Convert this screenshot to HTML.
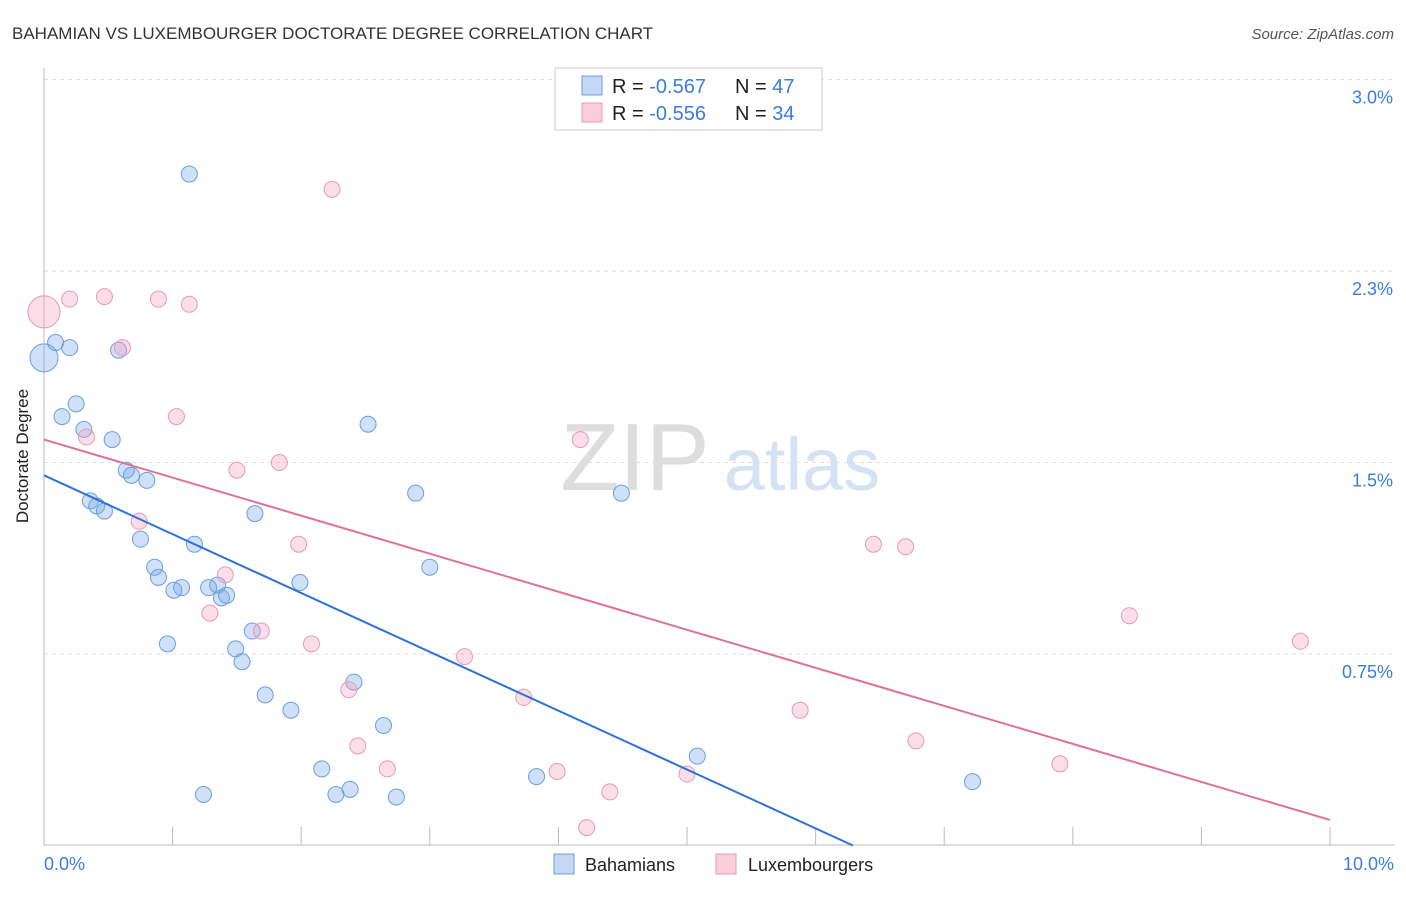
<!DOCTYPE html>
<html><head><meta charset="utf-8"><style>
body{margin:0;background:#fff;font-family:"Liberation Sans",sans-serif;}
svg text{font-family:"Liberation Sans",sans-serif;}
</style></head><body>
<svg id="chart" width="1406" height="892" xmlns="http://www.w3.org/2000/svg">
<text x="12" y="39" font-size="17" fill="#333">BAHAMIAN VS LUXEMBOURGER DOCTORATE DEGREE CORRELATION CHART</text>
<text x="1394" y="39" font-size="15" fill="#555" text-anchor="end" font-style="italic">Source: ZipAtlas.com</text>
<g id="grid"></g>
<g>
<text x="635" y="490" font-size="96" fill="#ddd" text-anchor="middle" font-family="Liberation Serif">ZIP</text>
<text x="802" y="490" font-size="74" fill="#d4e2f4" text-anchor="middle">atlas</text>
</g>
<g id="axes"></g>
<g id="pts"></g>
<g id="lines"></g>
<text x="28" y="456" font-size="17" fill="#222" text-anchor="middle" transform="rotate(-90 28 456)">Doctorate Degree</text>
<text x="44" y="870" font-size="18" fill="#3b7ddd">0.0%</text>
<text x="1394" y="870" font-size="18" fill="#3b7ddd" text-anchor="end">10.0%</text>
<g>
<rect x="555" y="68" width="267" height="62" fill="#fff" stroke="#ccc"/>
<rect x="582" y="76" width="20" height="19" fill="#c4d8f6" stroke="#6a9fe0"/>
<text x="612" y="93" font-size="20" fill="#222">R = <tspan fill="#3b7ddd">-0.567</tspan><tspan x="735">N = </tspan><tspan fill="#3b7ddd">47</tspan></text>
<rect x="582" y="103" width="20" height="19" fill="#f9cdd9" stroke="#e89ab4"/>
<text x="612" y="120" font-size="20" fill="#222">R = <tspan fill="#3b7ddd">-0.556</tspan><tspan x="735">N = </tspan><tspan fill="#3b7ddd">34</tspan></text>
</g>
<g>
<rect x="554" y="854" width="20" height="20" fill="#c4d8f6" stroke="#6a9fe0"/>
<text x="585" y="871" font-size="18" fill="#222">Bahamians</text>
<rect x="716" y="854" width="20" height="20" fill="#f9cdd9" stroke="#e89ab4"/>
<text x="748" y="871" font-size="18" fill="#222">Luxembourgers</text>
</g>
</svg>
<script>
const yTicks=[0.75,1.5,2.25,3.0];
const yTickLabels=["0.75%","1.5%","2.3%","3.0%"];
const xTicks=[0,1,2,3,4,5,6,7,8,9,10];
const blueX=[1.13,0.09,0.20,0.58,0.00,0.25,0.14,2.52,0.31,0.53,0.64,0.68,0.80,2.89,0.36,0.41,0.47,4.49,1.64,0.75,1.17,3.00,0.86,0.89,1.99,1.07,1.01,1.28,1.35,1.38,1.42,0.96,1.62,1.49,1.54,2.41,1.72,1.92,2.64,5.08,2.16,3.83,2.38,2.27,1.24,2.74,7.22];
const blueY=[2.63,1.97,1.95,1.94,1.91,1.73,1.68,1.65,1.63,1.59,1.47,1.45,1.43,1.38,1.35,1.33,1.31,1.38,1.30,1.20,1.18,1.09,1.09,1.05,1.03,1.01,1.00,1.01,1.02,0.97,0.98,0.79,0.84,0.77,0.72,0.64,0.59,0.53,0.47,0.35,0.30,0.27,0.22,0.20,0.20,0.19,0.25];
const blueSize=[8,8,8,8,14,8,8,8,8,8,8,8,8,8,8,8,8,8,8,8,8,8,8,8,8,8,8,8,8,8,8,8,8,8,8,8,8,8,8,8,8,8,8,8,8,8,8];
const pinkX=[2.24,0,0.20,0.47,0.89,1.13,0.61,1.03,0.33,4.17,1.50,1.83,0.74,1.98,6.45,6.70,1.41,1.29,1.69,2.08,8.44,9.77,3.27,2.37,3.73,5.88,2.44,6.78,2.67,3.99,5.00,7.90,4.40,4.22];
const pinkY=[2.57,2.09,2.14,2.15,2.14,2.12,1.95,1.68,1.60,1.59,1.47,1.50,1.27,1.18,1.18,1.17,1.06,0.91,0.84,0.79,0.90,0.80,0.74,0.61,0.58,0.53,0.39,0.41,0.30,0.29,0.28,0.32,0.21,0.07];
const pinkSize=[8,16,8,8,8,8,8,8,8,8,8,8,8,8,8,8,8,8,8,8,8,8,8,8,8,8,8,8,8,8,8,8,8,8];
const blueTrend=[1.45,-0.2305];
const pinkTrend=[1.59,-0.149];
const NS="http://www.w3.org/2000/svg";
const X=v=>44+v*128.6, Y=v=>845.5-v*255.3;
function mk(t,a,p){const e=document.createElementNS(NS,t);for(const k in a)e.setAttribute(k,a[k]);p.appendChild(e);return e;}
const grid=document.getElementById('grid'),axes=document.getElementById('axes'),pts=document.getElementById('pts'),lines=document.getElementById('lines');
yTicks.forEach((v,i)=>{
 const l=mk('line',{x1:44,x2:1394,y1:Y(v),y2:Y(v),stroke:'#ddd','stroke-dasharray':'4,4'},grid);
 
 
 const t=mk('text',{x:1393,y:Y(v)+24,'font-size':18,fill:'#3b7ddd','text-anchor':'end'},grid);
 t.textContent=yTickLabels[i];
 
 
});
const ya=mk('line',{x1:44,x2:44,y1:68,y2:845,stroke:'#bbb'},axes);


const xa=mk('line',{x1:44,x2:1394,y1:845,y2:845,stroke:'#bbb'},axes);


xTicks.forEach(v=>{
 const l=mk('line',{x1:X(v),x2:X(v),y1:827,y2:845,stroke:'#bbb'},axes);
 
 
});
blueX.forEach((v,i)=>{
 const c=mk('circle',{cx:X(v),cy:Y(blueY[i]),r:blueSize[i],fill:'rgba(120,165,235,0.35)',stroke:'#6a9fe0','stroke-width':1},pts);
 
 
});
pinkX.forEach((v,i)=>{
 const c=mk('circle',{cx:X(v),cy:Y(pinkY[i]),r:pinkSize[i],fill:'rgba(244,160,188,0.35)',stroke:'#e89ab4','stroke-width':1},pts);
 
 
});
const bEnd=-blueTrend[0]/blueTrend[1];
const bl=mk('line',{x1:X(0),y1:Y(blueTrend[0]),x2:X(bEnd),y2:Y(0),stroke:'#2d72d9','stroke-width':2},lines);


const pl=mk('line',{x1:X(0),y1:Y(pinkTrend[0]),x2:X(10),y2:Y(pinkTrend[0]+pinkTrend[1]*10),stroke:'#e0709a','stroke-width':2},lines);


</script>
</body></html>
